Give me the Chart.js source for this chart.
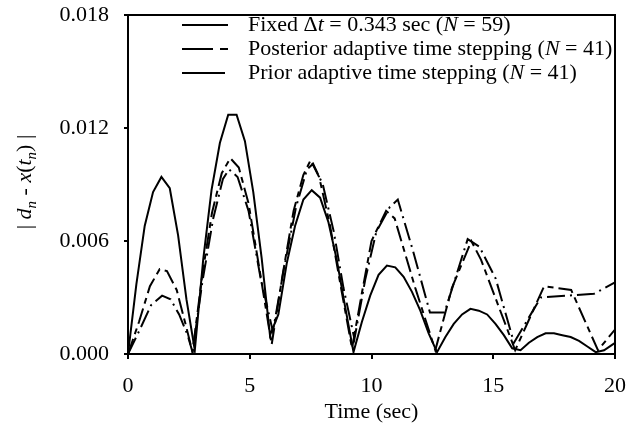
<!DOCTYPE html>
<html>
<head>
<meta charset="utf-8">
<script src="https://cdn.jsdelivr.net/npm/chart.js@4.4.0/dist/chart.umd.min.js"></script>
<style>
  html, body { margin: 0; padding: 0; background: #fff; }
  #wrap { position: relative; width: 641px; height: 438px; }
</style>
</head>
<body>
<div id="wrap"><canvas id="errChart"></canvas></div>
<script>
const FONT = "'Liberation Serif', 'Times New Roman', serif";
const FS = 22;

// ---------------------- Data ----------------------
// fixed step, dt = 0.343 s
const fixedTime = [0, 0.343, 0.686, 1.029, 1.372, 1.715, 2.058, 2.401, 2.744, 3.087,
  3.43, 3.773, 4.116, 4.459, 4.802, 5.145, 5.488, 5.831, 6.174, 6.517,
  6.86, 7.203, 7.546, 7.889, 8.232, 8.575, 8.918, 9.261, 9.604, 9.947,
  10.29, 10.633, 10.976, 11.319, 11.662, 12.005, 12.348, 12.691, 13.034, 13.377,
  13.72, 14.063, 14.406, 14.749, 15.092, 15.435, 15.778, 16.121, 16.464, 16.807,
  17.15, 17.493, 17.836, 18.179, 18.522, 18.865, 19.208, 19.551, 19.894, 20.237];
const fixedErr = [0, 0.0037, 0.0068, 0.0086, 0.0094, 0.0088, 0.0063, 0.0029, 0.0002, 0.0050,
  0.0087, 0.0112, 0.0127, 0.0127, 0.0113, 0.0086, 0.0051, 0.0010, 0.0021, 0.0048,
  0.0068, 0.0082, 0.0087, 0.0083, 0.0070, 0.0050, 0.0025, 0.0001, 0.0017, 0.0031,
  0.0042, 0.0047, 0.0046, 0.0041, 0.0033, 0.0023, 0.0011, 0.0001, 0.0009, 0.0016,
  0.0021, 0.0024, 0.0023, 0.0021, 0.0016, 0.0010, 0.0003, 0.0002, 0.0006, 0.0009,
  0.0011, 0.0011, 0.0010, 0.0009, 0.0007, 0.0004, 0.0001, 0.0002, 0.0005, 0.0008];

// posterior adaptive stepping
const postTime = [0, 0.45, 0.9, 1.3, 1.6, 2.0, 2.4, 2.65, 3.05, 3.45,
  3.85, 4.2, 4.55, 4.95, 5.4, 5.9, 6.35, 6.8, 7.2, 7.5,
  7.85, 8.3, 8.75, 9.2, 9.6, 10.0, 10.6, 10.95, 11.8, 12.62,
  13.3, 14.1, 14.5, 15.2, 15.9, 17.09, 18.2, 19.3, 20.0];
const postErr = [0, 0.0017, 0.0036, 0.0045, 0.0044, 0.0034, 0.0014, 0.0001, 0.0042, 0.0075,
  0.0096, 0.0104, 0.0099, 0.0080, 0.0045, 0.0005, 0.0042, 0.0076, 0.0095, 0.0103,
  0.0094, 0.0068, 0.0035, 0.0003, 0.0032, 0.0060, 0.0076, 0.0072, 0.0035, 0.0002,
  0.0035, 0.0060, 0.0050, 0.0026, 0.0002, 0.0036, 0.0034, 0.0002, 0.0013];

// prior adaptive stepping
const priorTime = [0, 0.45, 0.95, 1.4, 1.75, 2.1, 2.45, 2.65, 3.05, 3.5,
  3.9, 4.15, 4.5, 4.95, 5.45, 5.95, 6.4, 6.9, 7.35, 7.6,
  8.0, 8.45, 8.85, 9.3, 9.75, 10.2, 10.75, 11.08, 11.7, 12.4,
  13.0, 13.95, 14.43, 15.1, 15.85, 16.95, 19.14, 20.0];
const priorErr = [0, 0.0012, 0.0026, 0.0031, 0.0029, 0.0021, 0.0010, 0.0001, 0.0038, 0.0072,
  0.0093, 0.0098, 0.0094, 0.0076, 0.0040, 0.0012, 0.0045, 0.0078, 0.0098, 0.0101,
  0.0090, 0.0065, 0.0035, 0.0008, 0.0040, 0.0065, 0.0078, 0.0082, 0.0055, 0.0022,
  0.0022, 0.0061, 0.0057, 0.0040, 0.0006, 0.0030, 0.0032, 0.0038];

const xTicks = [0, 5, 10, 15, 20];
const yTicks = [0, 0.006, 0.012, 0.018];

const seriesNames = [
  [{ t: "Fixed \u0394" }, { t: "t", it: true }, { t: " = 0.343 sec (" }, { t: "N", it: true }, { t: " = 59)" }],
  [{ t: "Posterior adaptive time stepping (" }, { t: "N", it: true }, { t: " = 41)" }],
  [{ t: "Prior adaptive time stepping (" }, { t: "N", it: true }, { t: " = 41)" }]
];
const yTitle = [
  { t: "| " }, { t: "d", it: true }, { t: "n", it: true, sub: true }, { t: " - " },
  { t: "x", it: true }, { t: "(" }, { t: "t", it: true }, { t: "n", it: true, sub: true }, { t: ") |" }
];

const toPoints = (xs, ys) => xs.map((x, i) => ({ x, y: ys[i] }));

// ---------------------- Helpers ----------------------
function runFont(r, size) {
  const fs = r.sub ? Math.round(size * 0.7) : size;
  return `${r.it ? "italic " : ""}${fs}px ${FONT}`;
}

function runsWidth(ctx, runs, size) {
  let w = 0;
  runs.forEach(r => { ctx.font = runFont(r, size); w += ctx.measureText(r.t).width; });
  return w;
}

function drawRuns(ctx, runs, x, y, size) {
  runs.forEach(r => {
    ctx.font = runFont(r, size);
    ctx.fillText(r.t, x, y + (r.sub ? size * 0.3 : 0));
    x += ctx.measureText(r.t).width;
  });
}

const legendDashes = [[], [31, 7, 8, 200], [43, 200]];

// frame, legend and y title
const decorPlugin = {
  id: "decor",
  afterDraw(chart) {
    const { ctx, chartArea: a } = chart;
    ctx.save();
    ctx.strokeStyle = "#000";
    ctx.fillStyle = "#000";
    ctx.lineWidth = 2;
    ctx.strokeRect(a.left, a.top, a.right - a.left, a.bottom - a.top);

    // legend
    ctx.textBaseline = "middle";
    ctx.textAlign = "left";
    seriesNames.forEach((runs, i) => {
      const y = 25 + i * 24;
      ctx.setLineDash(legendDashes[i]);
      ctx.beginPath();
      ctx.moveTo(182, y);
      ctx.lineTo(228, y);
      ctx.stroke();
      ctx.setLineDash([]);
      drawRuns(ctx, runs, 248, y, FS);
    });

    // y axis title
    ctx.translate(25, 182);
    ctx.rotate(-Math.PI / 2);
    const w = runsWidth(ctx, yTitle, FS);
    drawRuns(ctx, yTitle, -w / 2, 0, FS);
    ctx.restore();
  }
};

// ---------------------- Chart ----------------------
const lineStyle = { borderColor: "#000", borderWidth: 2, pointRadius: 0, tension: 0, fill: false };

new Chart(document.getElementById("errChart"), {
  type: "line",
  data: {
    datasets: [
      { ...lineStyle, label: "Fixed", data: toPoints(fixedTime, fixedErr) },
      { ...lineStyle, label: "Posterior", data: toPoints(postTime, postErr), borderDash: [16, 5, 6, 5] },
      { ...lineStyle, label: "Prior", data: toPoints(priorTime, priorErr), borderDash: [18, 5, 2, 5] }
    ]
  },
  options: {
    responsive: true,
    maintainAspectRatio: false,
    animation: false,
    layout: { padding: { top: 15, right: 26, left: 0, bottom: 0 } },
    plugins: { legend: { display: false }, tooltip: { enabled: false } },
    scales: {
      x: {
        type: "linear",
        min: 0,
        max: 20,
        afterBuildTicks: s => { s.ticks = xTicks.map(v => ({ value: v })); },
        afterFit: s => { s.height = 84; },
        ticks: { color: "#000", font: { family: FONT, size: FS }, padding: 14, maxRotation: 0 },
        grid: { drawOnChartArea: false, drawTicks: true, tickLength: 5, color: "#000", lineWidth: 2 },
        border: { color: "#000", width: 2 },
        title: { display: true, text: "Time (sec)", color: "#000", font: { family: FONT, size: FS }, padding: { top: 0, bottom: 13 } }
      },
      y: {
        min: 0,
        max: 0.018,
        afterBuildTicks: s => { s.ticks = yTicks.map(v => ({ value: v })); },
        afterFit: s => { s.width = 128; s.paddingTop = 0; s.paddingBottom = 0; },
        ticks: { color: "#000", font: { family: FONT, size: FS }, padding: 15, callback: v => v.toFixed(3) },
        grid: { drawOnChartArea: false, drawTicks: true, tickLength: 4, color: "#000", lineWidth: 2 },
        border: { color: "#000", width: 2 }
      }
    }
  },
  plugins: [decorPlugin]
});
</script>
</body>
</html>
